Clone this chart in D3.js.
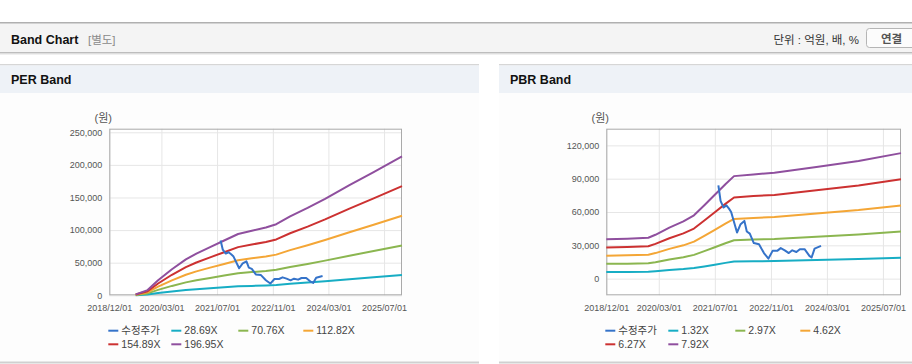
<!DOCTYPE html>
<html>
<head>
<meta charset="utf-8">
<title>Band Chart</title>
<style>
  body { margin: 0; background: #fff; }
  svg { display: block; font-family: "Liberation Sans", "Noto Sans CJK KR", Arial, sans-serif; }
</style>
</head>
<body>
<svg id="chart" width="912" height="364"></svg>
<script src="https://cdn.jsdelivr.net/npm/d3@7/dist/d3.min.js"></script>
<script>
// x axis tick labels, shared by both charts
var xTickLabels = ['2018/12/01', '2020/03/01', '2021/07/01', '2022/11/01', '2024/03/01', '2025/07/01'];
var xStart = '2018-12-01', xEnd = '2025-12-05';

// 수정주가 (adjusted price)
var priceDates = ['2021-08-01', '2021-08-20', '2021-09-15', '2021-10-10', '2021-11-01', '2021-11-20',
  '2022-01-10', '2022-02-10', '2022-03-15', '2022-04-05', '2022-05-01', '2022-06-05', '2022-07-20',
  '2022-09-01', '2022-10-10', '2022-11-15', '2022-12-25', '2023-01-25', '2023-03-01', '2023-04-05',
  '2023-05-05', '2023-06-10', '2023-07-10', '2023-08-20', '2023-10-01', '2023-10-20', '2023-11-15', '2024-01-10'];
var priceValues = [84000, 70000, 64000, 66000, 63000, 60000,
  41500, 49000, 52000, 42500, 40500, 32000, 31000,
  23000, 18000, 25000, 25000, 27500, 25500, 23000,
  25500, 24000, 26500, 26500, 20500, 19000, 27000, 29500];

// PER band
var perLabels = ['수정주가', '28.69X', '70.76X', '112.82X', '154.89X', '196.95X'];
var perYTicks = [0, 50000, 100000, 150000, 200000, 250000];
var perDates = ['2019-07-20', '2019-11-01', '2020-02-01', '2020-06-01', '2020-10-01', '2021-01-01',
  '2021-05-01', '2021-09-01', '2022-01-01', '2022-05-01', '2022-09-01', '2022-12-01',
  '2023-04-01', '2023-09-01', '2024-02-01', '2024-09-01', '2025-04-01', '2025-12-05'];
var per28 = [200, 1200, 3400, 5800, 8000, 9300, 10800, 12200, 13700, 14400, 15200, 15900, 17600, 19500, 21600, 24600, 27500, 31000];
var per70 = [500, 2900, 8300, 14400, 19800, 23000, 26600, 30200, 33800, 35600, 37400, 39200, 43500, 48100, 53200, 60700, 67900, 76500];
var per112 = [900, 4600, 13200, 22900, 31500, 36700, 42400, 48100, 53800, 56700, 59600, 62400, 69300, 76800, 84800, 96800, 108300, 122000];
var per154 = [1200, 6300, 18100, 31500, 43300, 50300, 58200, 66100, 73900, 77900, 81800, 85700, 95200, 105400, 116400, 132900, 148600, 167500];
var per196 = [1500, 8000, 23000, 40000, 55000, 64000, 74000, 84000, 94000, 99000, 104000, 109000, 121000, 134000, 148000, 169000, 189000, 213000];

// PBR band
var pbrLabels = ['수정주가', '1.32X', '2.97X', '4.62X', '6.27X', '7.92X'];
var pbrYTicks = [0, 30000, 60000, 90000, 120000];
var pbrDates = ['2018-12-01', '2019-06-01', '2019-12-01', '2020-02-01', '2020-06-01', '2020-10-01',
  '2021-01-01', '2021-04-01', '2021-07-01', '2021-10-01', '2021-12-15', '2022-06-01',
  '2022-12-01', '2023-12-01', '2024-12-01', '2025-12-05'];
var pbr132 = [5900, 6000, 6100, 6600, 7700, 8600, 9500, 11000, 12600, 14200, 15400, 15600, 15900, 16800, 17700, 18800];
var pbr297 = [13300, 13500, 13800, 14800, 17300, 19300, 21400, 24800, 28300, 31900, 34600, 35200, 35700, 37700, 39800, 42400];
var pbr462 = [20700, 21000, 21500, 23000, 26800, 30000, 33300, 38500, 44000, 49600, 53800, 54700, 55600, 58600, 61800, 65900];
var pbr627 = [28100, 28500, 29100, 31300, 36400, 40800, 45100, 52300, 59800, 67300, 73100, 74300, 75400, 79600, 83900, 89500];
var pbr792 = [35500, 36000, 36800, 39500, 46000, 51500, 57000, 66000, 75500, 85000, 92300, 93800, 95300, 100500, 106000, 113000];

var colors = ['#3573c9', '#17adc4', '#8bb650', '#f4a636', '#cc3131', '#8f4f9e'];

var parse = d3.timeParse('%Y-%m-%d');
var parseTick = d3.timeParse('%Y/%m/%d');
var svg = d3.select('#chart');

// ---- page header ----
svg.append('rect').attr('x', 0).attr('y', 22).attr('width', 912).attr('height', 31).attr('fill', '#f4f4f4');
svg.append('rect').attr('x', 0).attr('y', 22).attr('width', 912).attr('height', 1.5).attr('fill', '#b0b0b0');
svg.append('rect').attr('x', 0).attr('y', 52).attr('width', 912).attr('height', 1).attr('fill', '#bdbdbd');
svg.append('rect').attr('x', 0).attr('y', 53).attr('width', 912).attr('height', 1).attr('fill', '#dedede');
svg.append('rect').attr('x', 0).attr('y', 54).attr('width', 912).attr('height', 1).attr('fill', '#f0f0f0');
svg.append('text').attr('x', 11).attr('y', 43.5).attr('font-size', 12.5).attr('font-weight', 'bold')
  .attr('fill', '#111').text('Band Chart');
svg.append('text').attr('x', 88).attr('y', 43.5).attr('font-size', 11.5).attr('fill', '#8a8a8a').text('[별도]');
svg.append('text').attr('x', 859).attr('y', 43.5).attr('font-size', 11.5).attr('fill', '#333')
  .attr('text-anchor', 'end').text('단위 : 억원, 배, %');
svg.append('rect').attr('x', 866.5).attr('y', 28.5).attr('width', 60).attr('height', 19).attr('rx', 3)
  .attr('fill', '#fcfcfc').attr('stroke', '#b5b5b5');
svg.append('text').attr('x', 891.5).attr('y', 42.5).attr('font-size', 11.5).attr('font-weight', 'bold')
  .attr('fill', '#555').attr('text-anchor', 'middle').text('연결');

function toPoints(dates, values) {
  return dates.map(function (d, i) { return { date: parse(d), v: values[i] }; });
}

function drawPanel(cfg) {
  var g = svg.append('g');
  // panel frame
  g.append('rect').attr('x', cfg.px).attr('y', 64).attr('width', cfg.pw).attr('height', 1.5).attr('fill', '#d6d6d6');
  g.append('rect').attr('x', cfg.px).attr('y', 65.5).attr('width', cfg.pw).attr('height', 27.5).attr('fill', '#eef2f7');
  g.append('rect').attr('x', cfg.px).attr('y', 93).attr('width', cfg.pw).attr('height', 268.5).attr('fill', '#fdfdfd');
  g.append('rect').attr('x', cfg.px).attr('y', 361.5).attr('width', cfg.pw).attr('height', 2).attr('fill', '#d0d0d0');
  g.append('text').attr('x', cfg.px + 11).attr('y', 84).attr('font-size', 12.5).attr('font-weight', 'bold')
    .attr('fill', '#111').text(cfg.title);

  var x = d3.scaleTime().domain([parse(xStart), parse(xEnd)]).range([cfg.left, cfg.right]);
  var y = d3.scaleLinear().domain(cfg.yDomain).range([cfg.bottom, cfg.top]);

  g.append('rect').attr('x', cfg.left).attr('y', cfg.top).attr('width', cfg.right - cfg.left)
    .attr('height', cfg.bottom - cfg.top).attr('fill', '#fff');

  var xAxis = g.append('g').attr('transform', 'translate(0,' + cfg.bottom + ')')
    .call(d3.axisBottom(x).tickValues(xTickLabels.map(parseTick)).tickFormat(d3.timeFormat('%Y/%m/%d'))
      .tickSize(-(cfg.bottom - cfg.top)).tickPadding(9));
  var yAxis = g.append('g').attr('transform', 'translate(' + cfg.left + ',0)')
    .call(d3.axisLeft(y).tickValues(cfg.yTicks).tickFormat(d3.format(','))
      .tickSize(-(cfg.right - cfg.left)).tickPadding(7));
  [xAxis, yAxis].forEach(function (a) {
    a.select('.domain').remove();
    a.selectAll('line').attr('stroke', '#e6e6e6');
    a.selectAll('text').attr('fill', '#555').attr('font-size', 9)
      .attr('font-family', '"Liberation Sans", Arial, sans-serif');
  });

  g.append('rect').attr('x', cfg.left + 0.5).attr('y', cfg.top + 0.5).attr('width', cfg.right - cfg.left - 1)
    .attr('height', cfg.bottom - cfg.top - 1).attr('fill', 'none').attr('stroke', '#aaa');

  g.append('text').attr('x', cfg.left - 6).attr('y', 121.5).attr('font-size', 11).attr('fill', '#555')
    .attr('text-anchor', 'middle').text('(원)');

  var line = d3.line().x(function (d) { return x(d.date); }).y(function (d) { return y(d.v); });
  var series = cfg.bands.map(function (vals) { return toPoints(cfg.dates, vals); });
  series.forEach(function (pts, i) {
    g.append('path').datum(pts).attr('d', line).attr('fill', 'none')
      .attr('stroke', colors[i + 1]).attr('stroke-width', 2).attr('stroke-linejoin', 'round');
  });
  g.append('path').datum(toPoints(priceDates, priceValues)).attr('d', line).attr('fill', 'none')
    .attr('stroke', colors[0]).attr('stroke-width', 2).attr('stroke-linejoin', 'round');

  // legend
  var cols = [0, 63, 130, 195];
  var item = g.selectAll('.legend').data(cfg.labels).enter().append('g')
    .attr('transform', function (d, i) {
      return 'translate(' + (cfg.left - 1 + cols[i % 4]) + ',' + (330.7 + Math.floor(i / 4) * 13.6) + ')';
    });
  item.append('line').attr('x1', 0).attr('x2', 10).attr('y1', 0).attr('y2', 0)
    .attr('stroke', function (d, i) { return colors[i]; }).attr('stroke-width', 2);
  item.append('text').attr('x', 13).attr('dy', '0.36em').attr('font-size', 10.5).attr('fill', '#444')
    .text(function (d) { return d; });
}

drawPanel({
  title: 'PER Band', px: 0, pw: 479,
  left: 109.3, right: 402, top: 128.7, bottom: 295.3,
  yDomain: [0, 255500], yTicks: perYTicks,
  dates: perDates, bands: [per28, per70, per112, per154, per196], labels: perLabels
});
drawPanel({
  title: 'PBR Band', px: 499, pw: 413,
  left: 606.3, right: 901, top: 128.7, bottom: 295.3,
  yDomain: [-15000, 135000], yTicks: pbrYTicks,
  dates: pbrDates, bands: [pbr132, pbr297, pbr462, pbr627, pbr792], labels: pbrLabels
});
</script>
</body>
</html>
